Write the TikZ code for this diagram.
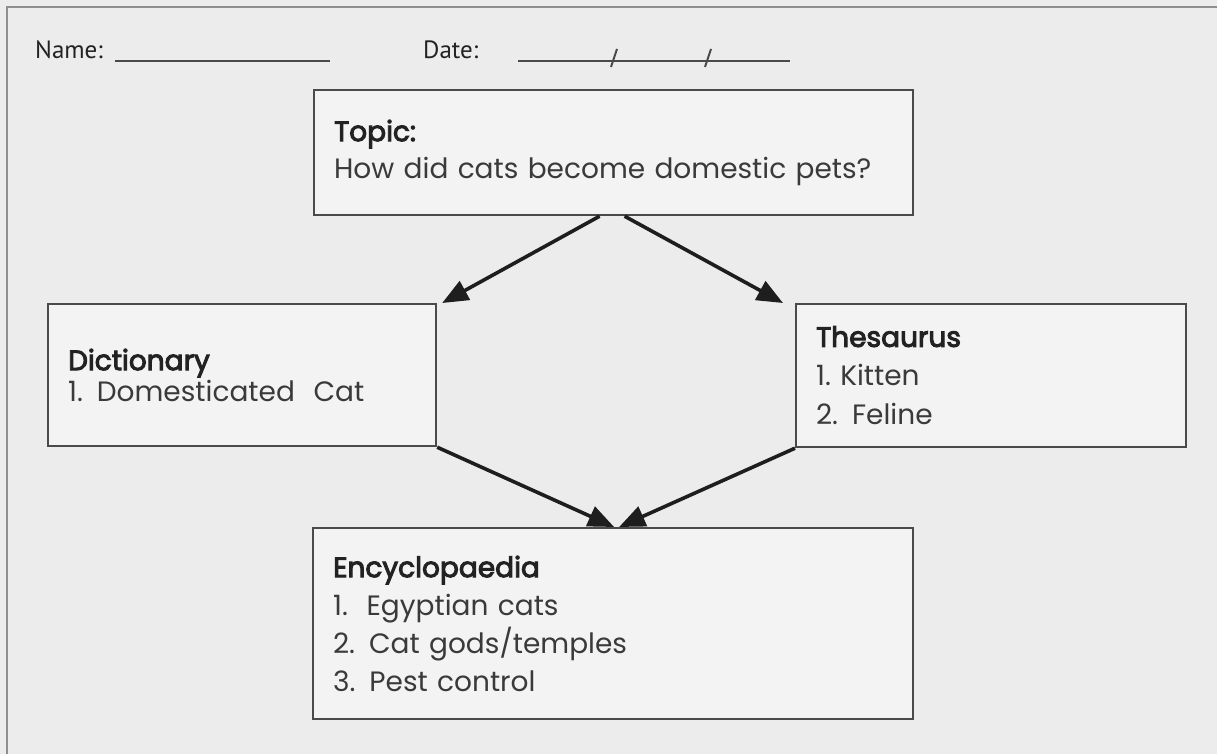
\documentclass[tikz,border=0pt]{standalone}
\usepackage{fontspec}
\setmainfont{Poppins}
\newfontfamily\hdrfont{PT Sans}
\newfontfamily\headfont[FakeBold=3.5]{Poppins}
\usetikzlibrary{arrows.meta}
\definecolor{bg}{HTML}{ECECEC}
\definecolor{boxfill}{HTML}{F3F3F3}
\definecolor{boxline}{HTML}{4A4A4A}
\definecolor{txt}{HTML}{3A3A3A}
\definecolor{head}{HTML}{222222}
\definecolor{arr}{HTML}{1E1E1E}
\definecolor{framec}{HTML}{8E8E8E}
\newcommand{\boxhead}[1]{{\headfont\color{head}#1}}
\begin{document}
\begin{tikzpicture}[x=1pt,y=-1pt,
  infobox/.style={draw=boxline, line width=2.2pt, fill=boxfill, rectangle,
    inner xsep=20pt, inner ysep=0pt, anchor=north west, align=left, text=txt,
    font=\fontsize{28}{37}\selectfont},
  hdr/.style={font=\hdrfont\fontsize{25}{28}\selectfont, text=head, anchor=base west, inner sep=0pt},
  flow/.style={draw=arr, line width=3.6pt, -{Triangle[length=26pt,width=21pt]}},
  rule/.style={draw=boxline, line width=2pt},
]
\fill[bg] (0,0) rectangle (1217,754);
\useasboundingbox (0,0) rectangle (1217,754);
% outer frame (top and left edges visible)
\draw[framec, line width=2pt] (7,754) -- (7,7) -- (1217,7);

% header
\node[hdr] (name) at (35,59) {Name:};
\node[hdr] (date) at (423,59) {Date:};
\draw[rule] (115,61) -- (330,61);
\draw[rule] (518,61) -- (790,61);
\draw[rule] (611,67) -- (617,49);
\draw[rule] (705,67) -- (711,49);

% boxes
\node[infobox, text width=559pt, minimum height=125pt] (topic) at (313,89)
  {\boxhead{Topic:}\\How did cats become domestic pets?};
\node[infobox, text width=348pt, minimum height=142pt, font=\fontsize{28}{31}\selectfont] (dict) at (47,303)
  {\boxhead{Dictionary}\\1. Domesticated\ \ Cat};
\node[infobox, text width=350pt, minimum height=143pt, font=\fontsize{28}{39}\selectfont] (thes) at (795,303)
  {\boxhead{Thesaurus}\\1.\ Kitten\\2. Feline};
\node[infobox, text width=560pt, minimum height=191pt, font=\fontsize{28}{38}\selectfont] (ency) at (312,527)
  {\boxhead{Encyclopaedia}\\1.\ \ Egyptian cats\\2. Cat gods/temples\\3. Pest control};

% arrows
\draw[flow] ([xshift=-14pt]topic.south) -- ([xshift=5pt]dict.north east);
\draw[flow] ([xshift=11pt]topic.south) -- ([xshift=-12pt]thes.north west);
\draw[flow] (dict.south east) -- ([xshift=1pt]ency.north);
\draw[flow] (thes.south west) -- ([xshift=6pt]ency.north);
\end{tikzpicture}
\end{document}
